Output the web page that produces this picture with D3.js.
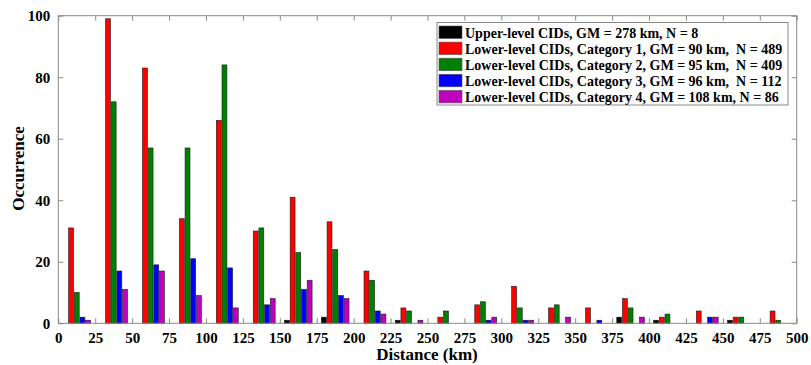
<!DOCTYPE html>
<html>
<head>
<meta charset="utf-8">
<script src="https://cdn.jsdelivr.net/npm/d3@7"></script>
<style>
  html, body { margin: 0; padding: 0; background: #fff; }
  svg { display: block; }
  text { font-family: "Liberation Serif", "Times New Roman", serif; font-weight: bold; fill: #000; }
</style>
</head>
<body>
<svg id="chart" width="811" height="365"></svg>
<script>
// Distance bins (km), 25 km wide
const binStarts = [0, 25, 50, 75, 100, 125, 150, 175, 200, 225, 250, 275, 300, 325, 350, 375, 400, 425, 450, 475];
const binWidth = 25;

// Occurrence counts per bin, one array per group of CIDs
const upperLevel = [0, 0, 0, 0, 0, 0, 1, 2, 0, 1, 0, 0, 0, 0, 0, 2, 1, 0, 1, 0];
const lowerCat1  = [31, 99, 83, 34, 66, 30, 41, 33, 17, 5, 2, 6, 12, 5, 5, 8, 2, 4, 2, 4];
const lowerCat2  = [10, 72, 57, 57, 84, 31, 23, 24, 14, 4, 4, 7, 5, 6, 0, 5, 3, 0, 2, 1];
const lowerCat3  = [2, 17, 19, 21, 18, 6, 11, 9, 4, 0, 0, 1, 1, 0, 1, 0, 0, 2, 0, 0];
const lowerCat4  = [1, 11, 17, 9, 5, 8, 14, 8, 3, 1, 0, 2, 1, 2, 0, 2, 0, 2, 0, 0];

const seriesNames = [
  "Upper-level CIDs, GM = 278 km, N = 8",
  "Lower-level CIDs, Category 1, GM = 90 km,  N = 489",
  "Lower-level CIDs, Category 2, GM = 95 km,  N = 409",
  "Lower-level CIDs, Category 3, GM = 96 km,  N = 112",
  "Lower-level CIDs, Category 4, GM = 108 km, N = 86"
];
const seriesColors = ["#000000", "#ff0000", "#008000", "#0000ff", "#bf00bf"];
const seriesValues = [upperLevel, lowerCat1, lowerCat2, lowerCat3, lowerCat4];

const xTicks = d3.range(0, 501, 25);
const yTicks = [0, 20, 40, 60, 80, 100];

const svg = d3.select("#chart");
const plotLeft = 58.3, plotRight = 796.7, plotTop = 15.7, plotBottom = 323.3;
const axisColor = "#8a8a8a";

const x = d3.scaleLinear().domain([0, 500]).range([plotLeft, plotRight]);
const y = d3.scaleLinear().domain([0, 100]).range([plotBottom, plotTop]);

// grouped bars: group spans 5/6.5 of a bin
const groupW = x(binWidth * 5 / 6.5) - x(0);
const inner = d3.scaleBand()
  .domain(d3.range(seriesValues.length))
  .range([-groupW / 2, groupW / 2])
  .paddingInner(0.14)
  .paddingOuter(0.07);

const barsG = svg.append("g");
seriesValues.forEach((vals, si) => {
  barsG.append("g")
    .selectAll("rect")
    .data(vals.map((v, i) => ({ v, c: binStarts[i] + binWidth / 2 })).filter(d => d.v > 0))
    .join("rect")
    .attr("x", d => x(d.c) + inner(si))
    .attr("width", inner.bandwidth())
    .attr("y", d => y(d.v))
    .attr("height", d => y(0) - y(d.v))
    .attr("fill", seriesColors[si])
    .attr("stroke", "#1a1a1a")
    .attr("stroke-width", 0.6);
});

// box axes with inward ticks
const tickLen = 5;
const axG = svg.append("g").attr("fill", "none").attr("stroke", axisColor).attr("stroke-width", 1);
axG.append("rect").attr("x", plotLeft).attr("y", plotTop)
  .attr("width", plotRight - plotLeft).attr("height", plotBottom - plotTop);

const bottomAxis = d3.axisBottom(x).tickValues(xTicks).tickSize(-tickLen).tickPadding(9).tickFormat(d3.format("d"));
const gx = svg.append("g").attr("transform", `translate(0,${plotBottom})`).call(bottomAxis);
gx.select(".domain").remove();
gx.selectAll(".tick line").attr("stroke", axisColor);
gx.selectAll(".tick text").attr("font-size", 15);
gx.attr("font-family", null);

const topAxis = d3.axisTop(x).tickValues(xTicks).tickSize(-tickLen).tickFormat("");
const gt = svg.append("g").attr("transform", `translate(0,${plotTop})`).call(topAxis);
gt.select(".domain").remove();
gt.selectAll(".tick line").attr("stroke", axisColor);

const leftAxis = d3.axisLeft(y).tickValues(yTicks).tickSize(-tickLen).tickPadding(8);
const gy = svg.append("g").attr("transform", `translate(${plotLeft},0)`).call(leftAxis);
gy.select(".domain").remove();
gy.selectAll(".tick line").attr("stroke", axisColor);
gy.selectAll(".tick text").attr("font-size", 15);
gy.attr("font-family", null);

const rightAxis = d3.axisRight(y).tickValues(yTicks).tickSize(-tickLen).tickFormat("");
const gr = svg.append("g").attr("transform", `translate(${plotRight},0)`).call(rightAxis);
gr.select(".domain").remove();
gr.selectAll(".tick line").attr("stroke", axisColor);

// axis titles
svg.append("text")
  .attr("x", (plotLeft + plotRight) / 2 - 0.5).attr("y", 360)
  .attr("text-anchor", "middle").attr("font-size", 17)
  .text("Distance (km)");
svg.append("text")
  .attr("transform", `translate(24,${(plotTop + plotBottom) / 2 - 1}) rotate(-90)`)
  .attr("text-anchor", "middle").attr("font-size", 17)
  .text("Occurrence");

// legend
const lg = svg.append("g").attr("transform", "translate(437,22.5)");
lg.append("rect").attr("width", 351).attr("height", 82.5)
  .attr("fill", "#fff").attr("stroke", axisColor).attr("stroke-width", 1);
seriesNames.forEach((name, i) => {
  const ry = 3.5 + i * 16.1;
  lg.append("rect").attr("x", 2).attr("y", ry).attr("width", 23).attr("height", 12.5)
    .attr("fill", seriesColors[i]).attr("stroke", "#555").attr("stroke-width", 0.6);
  lg.append("text").attr("x", 28).attr("y", ry + 11.5)
    .attr("font-size", 14).style("white-space", "pre")
    .text(name);
});
</script>
</body>
</html>
